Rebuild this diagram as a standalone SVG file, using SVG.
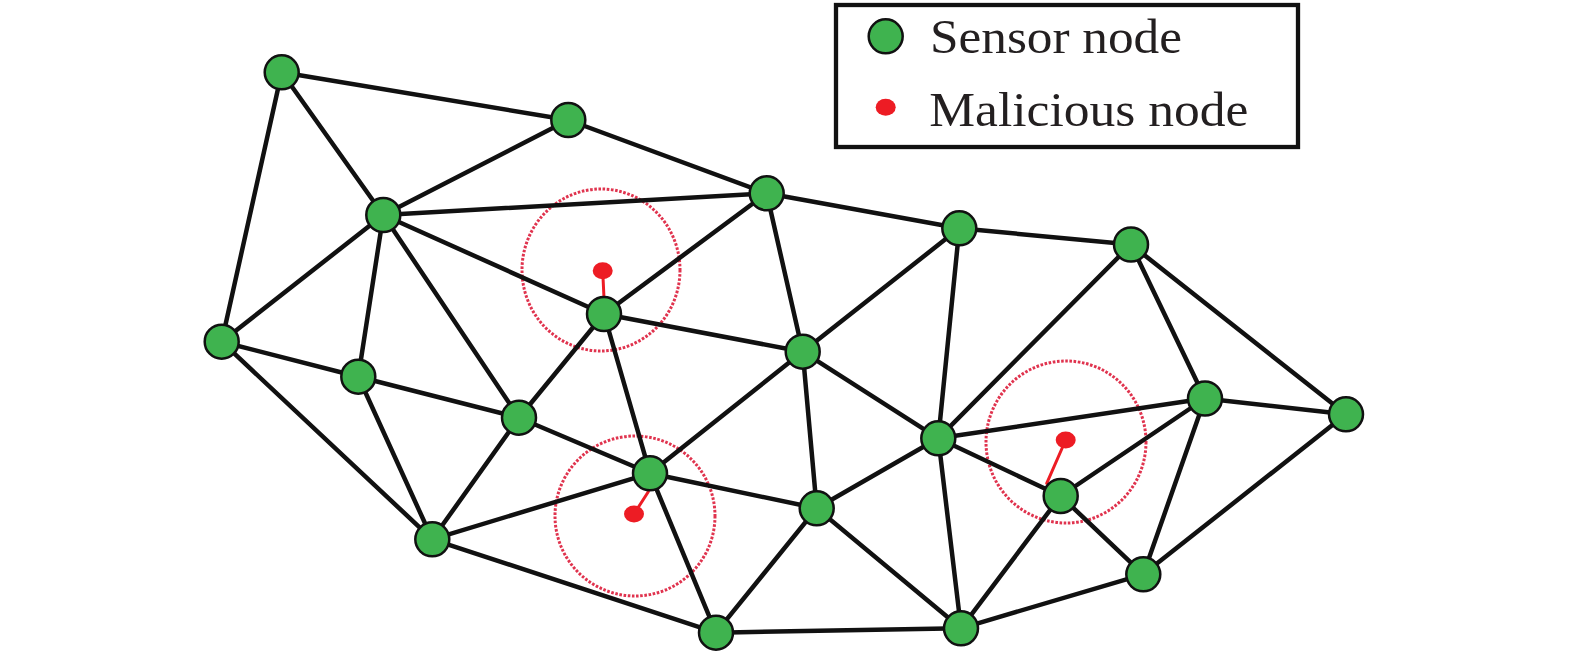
<svg xmlns="http://www.w3.org/2000/svg" width="1575" height="657" viewBox="0 0 1575 657">
<style>
.e{stroke:#111;stroke-width:4.5;stroke-linecap:round;fill:none}
.n{fill:#3fb34f;stroke:#111;stroke-width:2.5}
.m{fill:#ed1c24}
.ml{stroke:#ed1c24;stroke-width:3;stroke-linecap:round}
.r{fill:none;stroke:#e0334e;stroke-width:3;stroke-dasharray:2.6 1.6}
.t{font-family:"Liberation Serif","Times New Roman",serif;font-size:48px;fill:#231f20}
</style>
<rect width="1575" height="657" fill="#fff"/>
<g id="ranges">
<ellipse class="r" cx="601" cy="270" rx="79" ry="81"/>
<ellipse class="r" cx="635" cy="516" rx="80" ry="80"/>
<ellipse class="r" cx="1066" cy="442" rx="80" ry="81"/>
</g>
<g id="connectors">
<line class="e" x1="281.7" y1="72.3" x2="568.3" y2="120"/>
<line class="e" x1="281.7" y1="72.3" x2="383.3" y2="215"/>
<line class="e" x1="281.7" y1="72.3" x2="221.7" y2="341.7"/>
<line class="e" x1="568.3" y1="120" x2="383.3" y2="215"/>
<line class="e" x1="568.3" y1="120" x2="766.7" y2="193.3"/>
<line class="e" x1="383.3" y1="215" x2="766.7" y2="193.3"/>
<line class="e" x1="383.3" y1="215" x2="604" y2="314"/>
<line class="e" x1="383.3" y1="215" x2="221.7" y2="341.7"/>
<line class="e" x1="383.3" y1="215" x2="358.3" y2="376.7"/>
<line class="e" x1="383.3" y1="215" x2="519" y2="417.7"/>
<line class="e" x1="766.7" y1="193.3" x2="604" y2="314"/>
<line class="e" x1="766.7" y1="193.3" x2="802.7" y2="351.7"/>
<line class="e" x1="766.7" y1="193.3" x2="959.3" y2="228.3"/>
<line class="e" x1="959.3" y1="228.3" x2="1131" y2="244.5"/>
<line class="e" x1="959.3" y1="228.3" x2="802.7" y2="351.7"/>
<line class="e" x1="959.3" y1="228.3" x2="938.3" y2="438.3"/>
<line class="e" x1="1131" y1="244.5" x2="938.3" y2="438.3"/>
<line class="e" x1="1131" y1="244.5" x2="1205" y2="398.5"/>
<line class="e" x1="1131" y1="244.5" x2="1346" y2="414.3"/>
<line class="e" x1="221.7" y1="341.7" x2="358.3" y2="376.7"/>
<line class="e" x1="221.7" y1="341.7" x2="432.3" y2="539.3"/>
<line class="e" x1="358.3" y1="376.7" x2="519" y2="417.7"/>
<line class="e" x1="358.3" y1="376.7" x2="432.3" y2="539.3"/>
<line class="e" x1="519" y1="417.7" x2="604" y2="314"/>
<line class="e" x1="519" y1="417.7" x2="650" y2="473.3"/>
<line class="e" x1="519" y1="417.7" x2="432.3" y2="539.3"/>
<line class="e" x1="604" y1="314" x2="802.7" y2="351.7"/>
<line class="e" x1="604" y1="314" x2="650" y2="473.3"/>
<line class="e" x1="802.7" y1="351.7" x2="650" y2="473.3"/>
<line class="e" x1="802.7" y1="351.7" x2="816.7" y2="508.3"/>
<line class="e" x1="802.7" y1="351.7" x2="938.3" y2="438.3"/>
<line class="e" x1="650" y1="473.3" x2="432.3" y2="539.3"/>
<line class="e" x1="650" y1="473.3" x2="816.7" y2="508.3"/>
<line class="e" x1="650" y1="473.3" x2="716" y2="632.7"/>
<line class="e" x1="816.7" y1="508.3" x2="938.3" y2="438.3"/>
<line class="e" x1="816.7" y1="508.3" x2="716" y2="632.7"/>
<line class="e" x1="816.7" y1="508.3" x2="961" y2="628.3"/>
<line class="e" x1="938.3" y1="438.3" x2="1205" y2="398.5"/>
<line class="e" x1="938.3" y1="438.3" x2="961" y2="628.3"/>
<line class="e" x1="938.3" y1="438.3" x2="1060.7" y2="496"/>
<line class="e" x1="1060.7" y1="496" x2="1205" y2="398.5"/>
<line class="e" x1="1060.7" y1="496" x2="1143.3" y2="574.3"/>
<line class="e" x1="1060.7" y1="496" x2="961" y2="628.3"/>
<line class="e" x1="1205" y1="398.5" x2="1346" y2="414.3"/>
<line class="e" x1="1205" y1="398.5" x2="1143.3" y2="574.3"/>
<line class="e" x1="1346" y1="414.3" x2="1143.3" y2="574.3"/>
<line class="e" x1="432.3" y1="539.3" x2="716" y2="632.7"/>
<line class="e" x1="716" y1="632.7" x2="961" y2="628.3"/>
<line class="e" x1="961" y1="628.3" x2="1143.3" y2="574.3"/>
<line class="ml" x1="602.7" y1="270.7" x2="604" y2="298"/>
<line class="ml" x1="634" y1="514" x2="648.3" y2="491.7"/>
<line class="ml" x1="1065.7" y1="440" x2="1046.7" y2="483.3"/>
</g>
<g id="n1"><circle class="n" cx="281.7" cy="72.3" r="17"/></g>
<g id="n2"><circle class="n" cx="568.3" cy="120" r="17"/></g>
<g id="n3"><circle class="n" cx="766.7" cy="193.3" r="17"/></g>
<g id="n4"><circle class="n" cx="383.3" cy="215" r="17"/></g>
<g id="n5"><circle class="n" cx="959.3" cy="228.3" r="17"/></g>
<g id="n6"><circle class="n" cx="1131" cy="244.5" r="17"/></g>
<g id="n7"><circle class="n" cx="221.7" cy="341.7" r="17"/></g>
<g id="n8"><circle class="n" cx="604" cy="314" r="17"/></g>
<g id="n9"><circle class="n" cx="802.7" cy="351.7" r="17"/></g>
<g id="n10"><circle class="n" cx="358.3" cy="376.7" r="17"/></g>
<g id="n11"><circle class="n" cx="519" cy="417.7" r="17"/></g>
<g id="n12"><circle class="n" cx="1205" cy="398.5" r="17"/></g>
<g id="n13"><circle class="n" cx="1346" cy="414.3" r="17"/></g>
<g id="n14"><circle class="n" cx="938.3" cy="438.3" r="17"/></g>
<g id="n15"><circle class="n" cx="650" cy="473.3" r="17"/></g>
<g id="n16"><circle class="n" cx="1060.7" cy="496" r="17"/></g>
<g id="n17"><circle class="n" cx="816.7" cy="508.3" r="17"/></g>
<g id="n18"><circle class="n" cx="432.3" cy="539.3" r="17"/></g>
<g id="n19"><circle class="n" cx="1143.3" cy="574.3" r="17"/></g>
<g id="n20"><circle class="n" cx="716" cy="632.7" r="17"/></g>
<g id="n21"><circle class="n" cx="961" cy="628.3" r="17"/></g>
<g id="m1"><ellipse class="m" cx="602.7" cy="270.7" rx="10" ry="8.5"/></g>
<g id="m2"><ellipse class="m" cx="634" cy="514" rx="10" ry="8.5"/></g>
<g id="m3"><ellipse class="m" cx="1065.7" cy="440" rx="10" ry="8.5"/></g>
<g id="legend">
<rect x="836" y="5" width="462" height="142" fill="#fff" stroke="#111" stroke-width="4.3"/>
<circle class="n" cx="885.7" cy="36.3" r="17"/>
<ellipse class="m" cx="885.7" cy="107.3" rx="10" ry="8.5"/>
<text class="t" x="930" y="53.3" textLength="252" lengthAdjust="spacingAndGlyphs">Sensor node</text>
<text class="t" x="929.3" y="126" textLength="319" lengthAdjust="spacingAndGlyphs">Malicious node</text>
</g>
</svg>
